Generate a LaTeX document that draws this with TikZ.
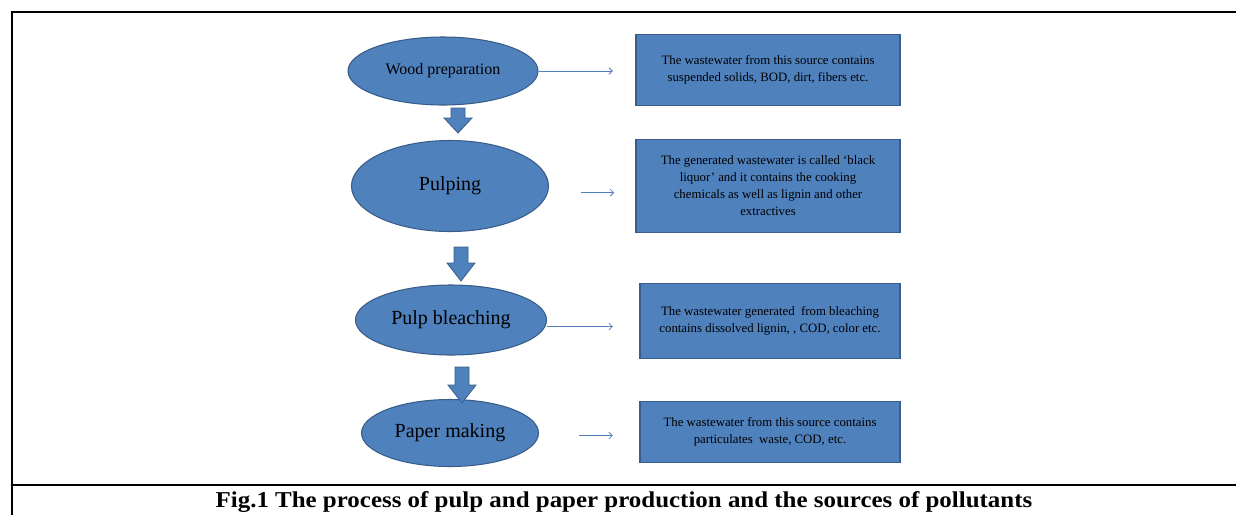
\documentclass[tikz,border=0pt]{standalone}
\usepackage{fontspec}
\setmainfont{Liberation Serif}
\newfontfamily\capfont[FakeStretch=1.1]{Liberation Serif}
\usetikzlibrary{shapes.geometric,arrows.meta}
\definecolor{stageblue}{RGB}{79,129,189}
\definecolor{edgeblue}{RGB}{56,93,138}

\begin{document}
\begin{tikzpicture}[x=0.75pt,y=-0.75pt,
  stage/.style={ellipse, draw=edgeblue, fill=stageblue, line width=0.8pt, inner sep=0pt,
    font=\fontsize{15}{17}\selectfont},
  source/.style={draw=edgeblue, fill=stageblue, line width=0.8pt, align=center,
    inner sep=0pt, font=\fontsize{9.6}{12.8}\selectfont},
  flow/.style={draw=stageblue, line width=0.6pt, -{Straight Barb[length=2.5pt,width=5pt]}},
  blockarrow/.style={draw=edgeblue, fill=stageblue, line width=0.6pt, line join=miter}]
  \useasboundingbox (0,0) rectangle (1236,515);
  % frame
  \draw[line width=1.5pt] (12,515) -- (12,12) -- (340,12);
  \draw[line width=0.8pt] (340,12) -- (910,12);
  \draw[line width=1.5pt] (910,12) -- (1236,12);
  \draw[line width=1.8pt] (12,485) -- (1236,485);

  % process stages
  \node[stage, minimum width=142.5pt, minimum height=51pt, font=\fontsize{12}{14}\selectfont]
    (wood) at (443,71) {Wood preparation};
  \node[stage, minimum width=147.75pt, minimum height=68.25pt] (pulp) at (450,186) {Pulping};
  \node[stage, minimum width=143.25pt, minimum height=52.5pt] (bleach) at (451,320) {Pulp bleaching};
  \node[stage, minimum width=132.75pt, minimum height=50.25pt] (paper) at (450,433) {Paper making};

  % sources of wastewater
  \node[source, minimum width=198pt, minimum height=53.25pt] (src1) at (768,70)
    {The wastewater from this source contains\\suspended solids, BOD, dirt, fibers etc.};
  \node[source, minimum width=198pt, minimum height=69.75pt] (src2) at (768,186)
    {The generated wastewater is called `black\\liquor' and it contains the cooking\\chemicals as well as lignin and other\\extractives};
  \node[source, minimum width=195pt, minimum height=56.25pt] (src3) at (770,321)
    {The wastewater generated\ \ from bleaching\\contains dissolved lignin, , COD, color etc.};
  \node[source, minimum width=195pt, minimum height=45.75pt] (src4) at (770,432)
    {The wastewater from this source contains\\particulates\ \ waste, COD, etc.};

  % thin arrows to the sources
  \draw[flow, shorten >=17pt] (wood.east) -- (wood.east -| src1.west);
  \draw[flow, shorten <=24pt, shorten >=16pt] ([yshift=-5pt]pulp.east) -- ([yshift=-5pt]pulp.east -| src2.west);
  \draw[flow, shorten >=20pt] ([yshift=-5pt]bleach.east) -- ([yshift=-5pt]bleach.east -| src3.west);
  \draw[flow, shorten <=30pt, shorten >=20pt] ([yshift=-2pt]paper.east) -- ([yshift=-2pt]paper.east -| src4.west);

  % block arrows between the stages
  \foreach \x/\ya/\yb/\yc in {458/108/118/133, 461/247/263/281, 462/367/385/403}{
    \filldraw[blockarrow] (\x-7,\ya) -- (\x+7,\ya) -- (\x+7,\yb) -- (\x+14,\yb)
      -- (\x,\yc) -- (\x-14,\yb) -- (\x-7,\yb) -- cycle;
  }

  % caption
  \node[font=\capfont\fontsize{17}{19}\selectfont\bfseries] (cap) at (624,502)
    {Fig.1 The process of pulp and paper production and the sources of pollutants};
\end{tikzpicture}
\end{document}
